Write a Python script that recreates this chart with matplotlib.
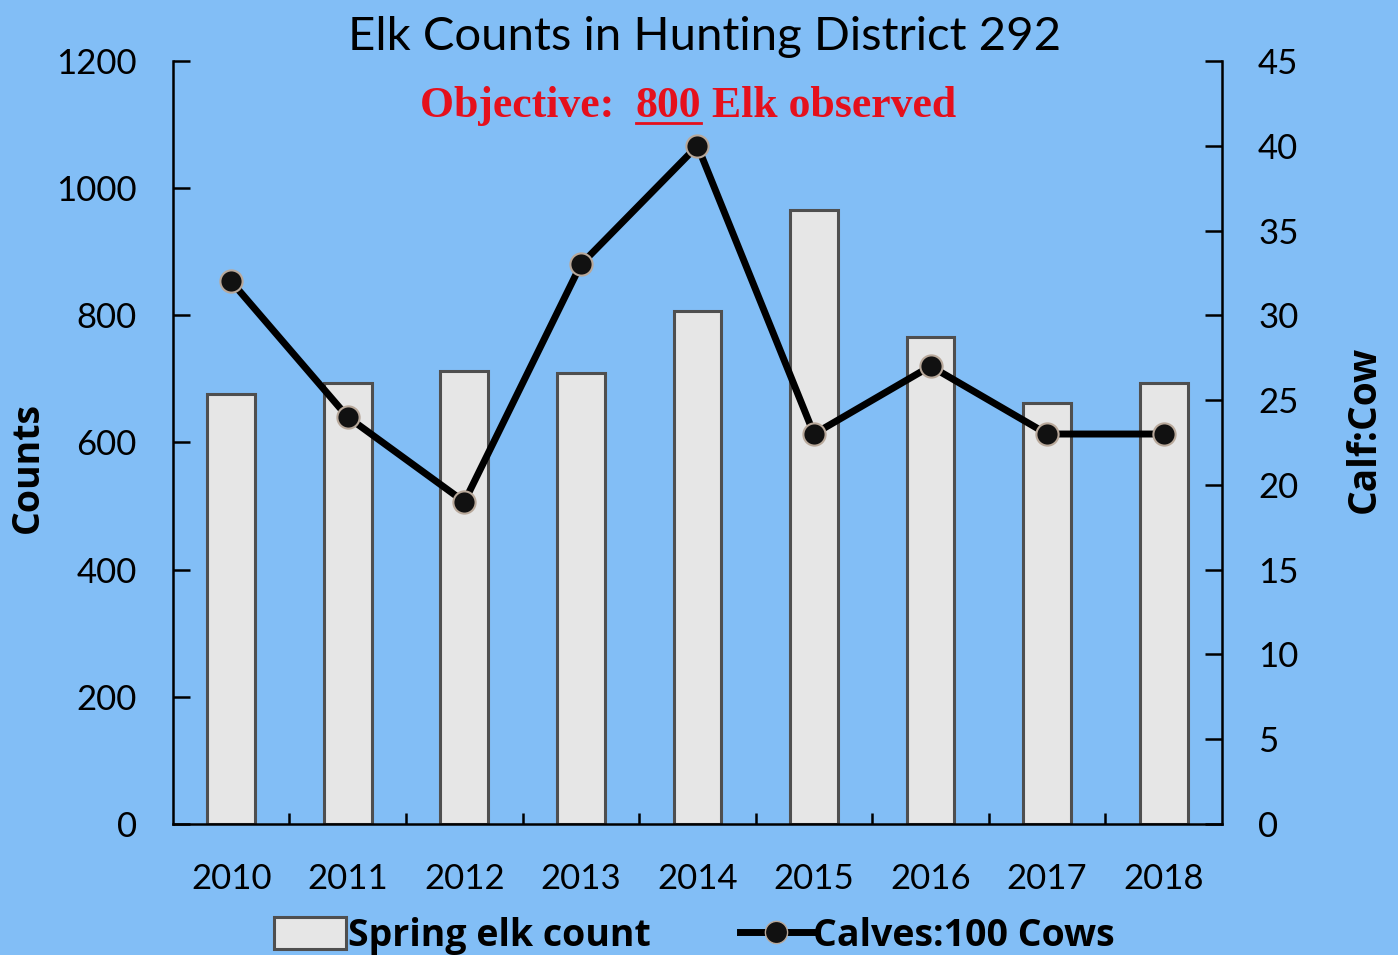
import matplotlib.pyplot as plt
from matplotlib.lines import Line2D
from matplotlib.patches import Patch

years = ['2010', '2011', '2012', '2013', '2014', '2015', '2016', '2017', '2018']
spring_counts = [676, 693, 712, 709, 807, 965, 766, 662, 693]
calves_per_100 = [32, 24, 19, 33, 40, 23, 27, 23, 23]

bg = '#82BEF6'
tick_font = 'Lato'

fig = plt.figure(figsize=(13.98, 9.55), dpi=100, facecolor=bg)
ax = fig.add_axes([0.1237, 0.1372, 0.7504, 0.7989], facecolor=bg)
ax2 = ax.twinx()

x = list(range(len(years)))
ax.bar(x, spring_counts, width=0.41, color='#E6E6E6', edgecolor='#4F4F4F',
       linewidth=2.2, zorder=2)

ax2.plot(x, calves_per_100, color='black', linewidth=5, marker='o',
         markersize=16, markerfacecolor='#111111', markeredgecolor='#B8A89A',
         markeredgewidth=1.5, zorder=3)

ax.set_xlim(-0.5, len(years) - 0.5)
ax.set_ylim(0, 1200)
ax2.set_ylim(0, 45)
ax.set_yticks(range(0, 1201, 200))
ax2.set_yticks(range(0, 46, 5))

ax.set_xticks(x)
ax.set_xticklabels(years)
ax.set_xticks([i + 0.5 for i in x[:-1]], minor=True)
ax.tick_params(axis='x', which='major', length=0, pad=28, labelsize=25)
ax.tick_params(axis='x', which='minor', direction='in', length=8, width=1.8)
ax.tick_params(axis='y', direction='in', length=12, width=1.8, pad=26, labelsize=25)
ax2.tick_params(axis='y', direction='in', length=12, width=1.8, pad=26, labelsize=25)
for lab in ax.get_xticklabels() + ax.get_yticklabels() + ax2.get_yticklabels():
    lab.set_family(tick_font)

for a in (ax, ax2):
    a.spines['top'].set_visible(False)
    for s in ('left', 'right', 'bottom'):
        a.spines[s].set_linewidth(1.8)
        a.spines[s].set_color('black')
ax2.spines['left'].set_visible(False)
ax2.spines['bottom'].set_visible(False)
ax.spines['right'].set_visible(False)

fig.text(0.020, 0.51, 'Counts', rotation=90, ha='center', va='center',
         fontsize=27, fontweight='bold', family='Open Sans')
fig.text(0.976, 0.55, 'Calf:Cow', rotation=90, ha='center', va='center',
         fontsize=28, fontweight='bold', family='Open Sans')

fig.text(0.504, 0.961, 'Elk Counts in Hunting District 292', ha='center',
         va='center', fontsize=34, family='Lato', color='black')

# red objective line, with the target number underlined
parts = ['Objective:  ', '800', ' Elk observed']
obj_kw = dict(fontsize=31.5, fontweight='bold', family='Liberation Serif',
              color='#E5101C', va='baseline')
fig.canvas.draw()
renderer = fig.canvas.get_renderer()
widths = []
for p in parts:
    t = fig.text(0, 0, p, **obj_kw)
    widths.append(t.get_window_extent(renderer).width)
    t.remove()
total = sum(widths)
x0 = 688 - total / 2
base_y = 955 - 117
for p, w in zip(parts, widths):
    fig.text(x0 / 1398, base_y / 955, p, ha='left', **obj_kw)
    if p == '800':
        fig.add_artist(Line2D([x0 / 1398, (x0 + w) / 1398],
                              [(base_y - 6) / 955, (base_y - 6) / 955],
                              color='#E5101C', linewidth=2))
    x0 += w

handles = [
    Patch(facecolor='#E6E6E6', edgecolor='#4F4F4F', linewidth=2.2),
    Line2D([], [], color='black', linewidth=5, marker='o', markersize=16,
           markerfacecolor='#111111', markeredgecolor='#B8A89A'),
]
fig.legend(handles, ['Spring elk count', 'Calves:100 Cows'], loc='center',
           bbox_to_anchor=(0.497, 0.020), ncol=2, frameon=False,
           prop={'family': 'Open Sans', 'weight': 'bold', 'size': 27},
           handlelength=1.9, handleheight=0.9, columnspacing=2.4,
           handletextpad=0.05)

fig.savefig('out.png', dpi=100, facecolor=bg)
